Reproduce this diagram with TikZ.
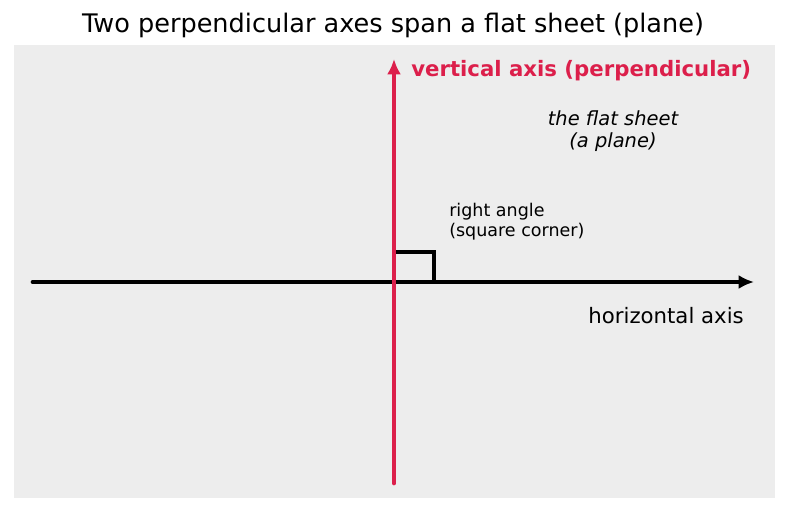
\documentclass[tikz,border=0pt]{standalone}
\usepackage{fontspec}
\setmainfont{DejaVu Sans}
\usetikzlibrary{arrows.meta}
\definecolor{sheetgray}{HTML}{EDEDED}
\definecolor{axisred}{HTML}{DC1F4B}
\tikzset{
	axisline/.style={line width=3.4pt,-{Latex[length=11pt,width=10pt]}},
	cornerline/.style={line width=2.3pt},
	label/.style={inner sep=0pt,font=\fontsize{11}{13}\selectfont}
}
\begin{document}
\begin{tikzpicture}[x=0.72pt,y=-0.72pt]
	\useasboundingbox (0,0) rectangle (787,512);
	\fill[sheetgray] (14,45) rectangle (775,498);
	\node[inner sep=0pt,font=\fontsize{18.4}{22}\selectfont] (title) at (393,25) {Two perpendicular axes span a flat sheet (plane)};
	\coordinate (hstart) at (33,282);
	\coordinate (hend) at (754,282);
	\coordinate (vstart) at (394,483);
	\coordinate (vend) at (394,59);
	\coordinate (origin) at (394,282);
	\draw[axisline,line cap=round] (hstart) -- (hend);
	\draw[cornerline] (396,252) -- (434,252) -- (434,282);
	\draw[axisline,axisred,line cap=round] (vstart) -- (vend);
	\node[label,anchor=west,text=axisred,font=\fontsize{15.3}{18}\selectfont\bfseries] (vlabel) at (411,71) {vertical axis (perpendicular)};
	\node[label,anchor=east,font=\fontsize{15.3}{18}\selectfont] (hlabel) at (744,316) {horizontal axis};
	\node[label,align=center,font=\fontsize{14}{15.5}\selectfont\itshape] (sheet) at (613,131) {the flat sheet\\(a plane)};
	\node[label,anchor=west,align=left,font=\fontsize{12.6}{14.5}\selectfont] (corner) at (449,222) {right angle\\(square corner)};
\end{tikzpicture}
\end{document}
